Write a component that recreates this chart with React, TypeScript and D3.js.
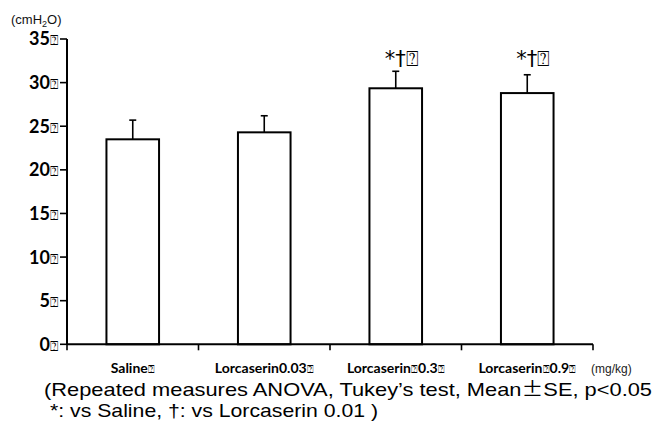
import React from "react";
import * as d3 from "d3";

const categories = ["Saline", "Lorcaserin0.03", "Lorcaserin0.3", "Lorcaserin0.9"];
const xLabels = ["Saline⍰", "Lorcaserin0.03⍰", "Lorcaserin⍰0.3⍰", "Lorcaserin⍰0.9⍰"];
const means = [23.5, 24.3, 29.35, 28.8];
const errors = [2.2, 1.9, 1.95, 2.1];
const marks = ["", "", "*†⍰", "*†⍰"];
const yTicks = [0, 5, 10, 15, 20, 25, 30, 35];
const xUnit = "(mg/kg)";
const note1a = "(Repeated measures ANOVA, Tukey’s test,  Mean";
const note1b = "±";
const note1c = "SE, p<0.05";
const note2 = "*: vs Saline, †: vs Lorcaserin 0.01 )";

const W = 654;
const H = 426;

export default function App() {
  const x = d3
    .scaleBand<string>()
    .domain(categories)
    .range([67, 593])
    .paddingInner(0.6)
    .paddingOuter(0.3);
  const y = d3.scaleLinear().domain([0, 35]).range([344.3, 39]);
  const bw = x.bandwidth();
  const step = x.step();
  const x0 = 67;
  const bounds = d3.range(categories.length + 1).map((i) => x0 + i * step);
  const labelFont = "Lato, 'DejaVu Sans', sans-serif";
  const arial = "'Liberation Sans', Arial, sans-serif";
  const tofuFont = "'DejaVu Sans', sans-serif";
  const markY = y(d3.max(means.map((m, i) => m + errors[i]))!) - 5;

  return (
    <svg
      width={W}
      height={H}
      viewBox={`0 0 ${W} ${H}`}
      style={{ position: "absolute", left: 0, top: 0, background: "#fff" }}
    >
      {/* y unit */}
      <text x={11} y={24} fontFamily={arial} fontSize={13} fill="#111">
        (cmH<tspan fontSize={9} dy={3}>2</tspan>
        <tspan dy={-3}>O)</tspan>
      </text>

      {/* bars */}
      {categories.map((c, i) => {
        const bx = x(c)!;
        const cx = bx + bw / 2;
        const top = y(means[i]);
        const et = y(means[i] + errors[i]);
        return (
          <g key={c}>
            <line x1={cx} x2={cx} y1={top} y2={et} stroke="#000" strokeWidth={1.6} />
            <line x1={cx - 3.5} x2={cx + 3.5} y1={et} y2={et} stroke="#000" strokeWidth={1.6} />
            <rect
              x={bx}
              y={top}
              width={bw}
              height={y(0) - top}
              fill="#fff"
              stroke="#000"
              strokeWidth={2}
            />
            {marks[i] && (
              <text x={cx - 11} y={markY} fontFamily={tofuFont} fontSize={21} fill="#000">
                {marks[i]}
              </text>
            )}
          </g>
        );
      })}

      {/* y axis */}
      <line x1={x0} x2={x0} y1={y(35)} y2={y(0)} stroke="#000" strokeWidth={2} />
      {yTicks.map((t) => (
        <g key={t}>
          <line x1={x0 - 7} x2={x0} y1={y(t)} y2={y(t)} stroke="#000" strokeWidth={1.6} />
          <text
            x={x0 - 9}
            y={y(t)}
            dy="0.36em"
            textAnchor="end"
            fontFamily={labelFont}
            fontWeight={700}
            fontSize={18}
            fill="#000"
          >
            {t}
            <tspan fontFamily={tofuFont} fontWeight={400} fontSize={14}>
              ⍰
            </tspan>
          </text>
        </g>
      ))}

      {/* x axis */}
      <line x1={x0} x2={bounds[bounds.length - 1]} y1={y(0)} y2={y(0)} stroke="#000" strokeWidth={2} />
      {bounds.map((b, i) => (
        <line key={i} x1={b} x2={b} y1={y(0)} y2={y(0) + 6} stroke="#000" strokeWidth={1.6} />
      ))}
      {categories.map((c, i) => {
        const parts = xLabels[i].split("⍰");
        return (
          <text
            key={c}
            x={x(c)! + bw / 2}
            y={373}
            textAnchor="middle"
            fontFamily={labelFont}
            fontWeight={700}
            fontSize={14}
            fill="#000"
          >
            {parts.map((part, j) => (
              <React.Fragment key={j}>
                {part}
                {j < parts.length - 1 && (
                  <tspan fontFamily={tofuFont} fontWeight={400} fontSize={11}>
                    ⍰
                  </tspan>
                )}
              </React.Fragment>
            ))}
          </text>
        );
      })}
      <text x={591} y={373} fontFamily={arial} fontSize={12} fill="#222">
        {xUnit}
      </text>

      {/* notes */}
      <text
        x={44}
        y={396}
        fontFamily={arial}
        fontSize={19}
        fill="#000"
        textLength={608}
        lengthAdjust="spacingAndGlyphs"
      >
        {note1a}
        <tspan fontFamily="'Noto Sans CJK JP', sans-serif">{note1b}</tspan>
        {note1c}
      </text>
      <text
        x={50}
        y={417}
        fontFamily={arial}
        fontSize={19}
        fill="#000"
        textLength={328}
        lengthAdjust="spacingAndGlyphs"
      >
        {note2}
      </text>
    </svg>
  );
}
